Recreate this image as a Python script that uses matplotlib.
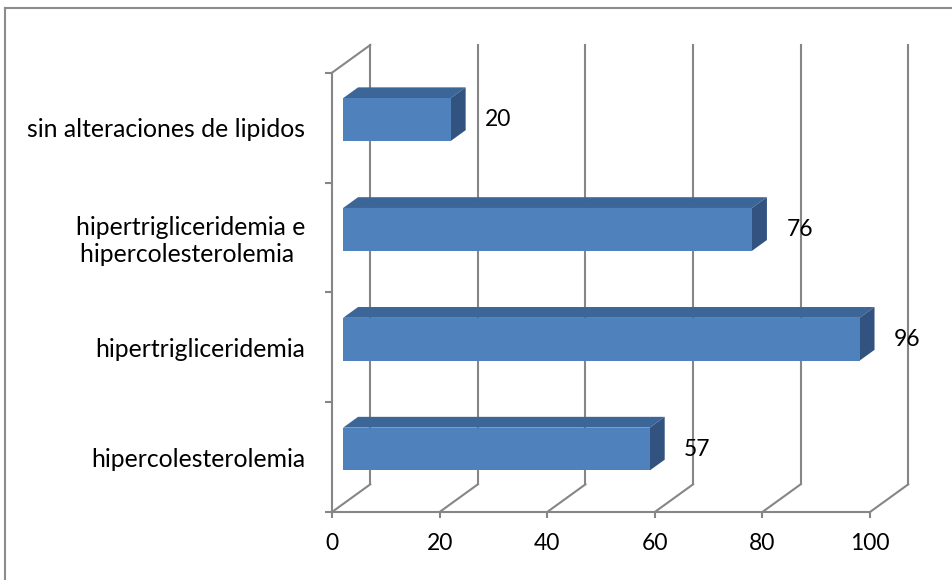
import matplotlib.pyplot as plt
from matplotlib.patches import Polygon, Rectangle
from matplotlib.lines import Line2D

categories = [
    "hipercolesterolemia",
    "hipertrigliceridemia",
    "hipertrigliceridemia e\nhipercolesterolemia ",
    "sin alteraciones de lipidos",
]
values = [57, 96, 76, 20]
xticks = [0, 20, 40, 60, 80, 100]

plt.rcParams['font.family'] = ['Lato', 'DejaVu Sans']

W, H = 953, 580
fig = plt.figure(figsize=(W / 100, H / 100), dpi=100)

# front plane of the box, in pixels
px0, px1, ptop, pbot = 332, 870, 72.7, 512
ax = fig.add_axes([px0 / W, 1 - pbot / H, (px1 - px0) / W, (pbot - ptop) / H])
ax.set_xlim(0, 100)
ax.set_ylim(0, len(categories))

# depth of the box expressed in data units
DX = 38.3 / ((px1 - px0) / 100)
DY = 27.7 / ((pbot - ptop) / len(categories))

grid_c = '#868686'
lw = 1.5

ax.patch.set_visible(False)
for s in ['top', 'right']:
    ax.spines[s].set_visible(False)
for s in ['left', 'bottom']:
    ax.spines[s].set_color(grid_c)
    ax.spines[s].set_linewidth(lw)

# back wall gridlines and floor diagonals
for t in xticks:
    ax.add_line(Line2D([t + DX, t + DX], [DY, len(categories) + DY],
                       color=grid_c, lw=lw, clip_on=False, zorder=1))
    ax.add_line(Line2D([t, t + DX], [0, DY], color=grid_c, lw=lw,
                       clip_on=False, zorder=1))
# side wall top edge
ax.add_line(Line2D([0, DX], [len(categories), len(categories) + DY],
                   color=grid_c, lw=lw, clip_on=False, zorder=1))

# 3D bars
front_c, top_c, side_c = '#4F81BD', '#3D6698', '#32537F'
f, b, h = 0.29, 0.68, 0.39
for i, v in enumerate(values):
    yc = i + 0.5
    yb_f, yt_f = yc - h / 2 + f * DY, yc + h / 2 + f * DY
    yb_b, yt_b = yc - h / 2 + b * DY, yc + h / 2 + b * DY
    xl_f, xr_f = f * DX, v + f * DX
    xl_b, xr_b = b * DX, v + b * DX
    ax.add_patch(Polygon([(xl_f, yt_f), (xr_f, yt_f), (xr_b, yt_b), (xl_b, yt_b)],
                         closed=True, fc=top_c, ec='none', zorder=3, clip_on=False))
    ax.add_patch(Polygon([(xr_f, yb_f), (xr_f, yt_f), (xr_b, yt_b), (xr_b, yb_b)],
                         closed=True, fc=side_c, ec='none', zorder=3, clip_on=False))
    ax.add_patch(Rectangle((xl_f, yb_f), v, h, fc=front_c, ec='none',
                           zorder=4, clip_on=False))
    ax.text(v + f * DX + 6.4, yc + f * DY, str(v), ha='left', va='center',
            fontsize=16.5, color='black', zorder=5)

# axis ticks
ax.set_xticks(xticks)
ax.set_xticklabels([str(t) for t in xticks])
ax.tick_params(axis='x', direction='out', length=4.3, width=lw, color=grid_c,
               labelsize=16.5, pad=10.5)
ax.set_yticks(range(len(categories) + 1))
ax.set_yticklabels([])
ax.tick_params(axis='y', which='major', direction='out', length=5, width=lw,
               color=grid_c)
ax.set_yticks([i + 0.5 for i in range(len(categories))], minor=True)
ax.set_yticklabels(categories, minor=True, multialignment='center')
ax.tick_params(axis='y', which='minor', length=0, labelsize=17.8, pad=19.4)

# outer frame of the chart
fig.add_artist(Line2D([5.5 / W, 5.5 / W], [0, 1 - 7.5 / H], color='#8c8c8c',
                      lw=1.5, transform=fig.transFigure))
fig.add_artist(Line2D([5.5 / W, 1], [1 - 7.5 / H, 1 - 7.5 / H], color='#8c8c8c',
                      lw=1.5, transform=fig.transFigure))

fig.savefig('out.png', dpi=100)
